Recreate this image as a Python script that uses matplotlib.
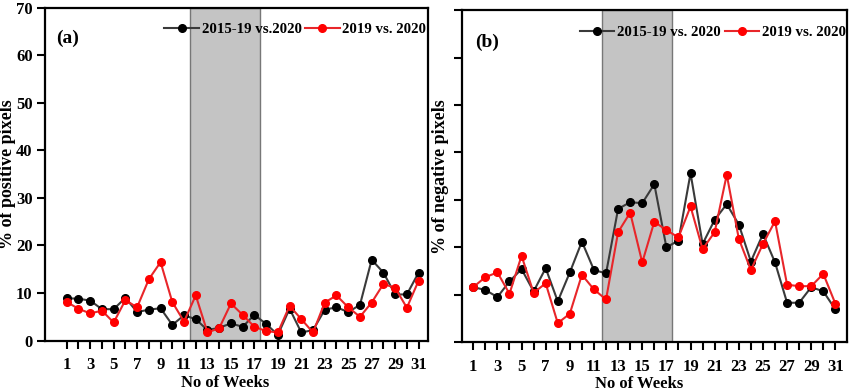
import numpy as np
import matplotlib.pyplot as plt

plt.rcParams['font.family'] = ['Liberation Serif', 'DejaVu Serif']
plt.rcParams['font.weight'] = 'bold'

weeks = np.arange(1, 32)

pos_1519 = [8.9, 8.8, 8.4, 6.6, 6.6, 9.0, 6.0, 6.5, 6.8, 3.3, 5.3, 4.5, 2.2, 2.7, 3.6, 2.9,
            5.4, 3.5, 1.2, 6.7, 1.7, 2.2, 6.5, 7.0, 6.0, 7.5, 17.0, 14.3, 9.7, 9.7, 14.3]
pos_19 = [8.1, 6.7, 5.7, 6.3, 3.8, 8.5, 7.0, 12.9, 16.5, 8.1, 4.0, 9.5, 1.7, 2.6, 7.8, 5.4,
          2.9, 2.0, 1.7, 7.3, 4.5, 1.7, 8.0, 9.5, 7.0, 5.0, 8.0, 11.9, 11.1, 6.9, 12.6]

neg_1519 = [11.6, 11.0, 9.5, 12.8, 15.4, 10.7, 15.6, 8.6, 14.7, 21.2, 15.2, 14.5, 28.1, 29.5,
            29.3, 33.3, 20.0, 21.4, 35.6, 20.7, 25.8, 29.1, 24.8, 17.0, 22.8, 16.8, 8.3, 8.3,
            11.6, 10.7, 6.9]
neg_19 = [11.6, 13.7, 14.7, 10.2, 18.2, 10.4, 12.4, 4.0, 6.0, 14.2, 11.1, 9.0, 23.2, 27.3,
          16.8, 25.4, 23.6, 22.1, 28.6, 19.6, 23.2, 35.3, 21.8, 15.2, 20.7, 25.5, 12.1, 11.8,
          11.8, 14.4, 8.1]

fig = plt.figure(figsize=(8.5, 3.91), dpi=100)
ax1 = fig.add_axes([0.053, 0.129, 0.4505, 0.851])
ax2 = fig.add_axes([0.544, 0.125, 0.453, 0.849])


def panel(ax, s1, s2, tag, ylab, xlim, shade, labels1, ylx, xlx, tagpos):
    ax.axvspan(shade[0], shade[1], facecolor='#c4c4c4', edgecolor='#777777', lw=1.0, zorder=0)
    ax.plot(weeks, s1, color='#3a3a3a', lw=1.5, marker='o', ms=5.5,
            mfc='black', mec='black', label=labels1)
    ax.plot(weeks, s2, color='#e8262a', lw=1.5, marker='o', ms=5.5,
            mfc='red', mec='red', label='2019 vs. 2020')
    ax.set_xlim(*xlim)
    ax.set_ylim(0, 70)
    ax.set_xticks(weeks)
    ax.set_xticklabels([str(w) if w % 2 else '' for w in weeks])
    ax.set_yticks(np.arange(0, 71, 10))
    ax.tick_params(direction='out', length=6, width=1.5, labelsize=12)
    ax.tick_params(axis='x', pad=6)
    ax.tick_params(axis='y', pad=3)
    for sp in ax.spines.values():
        sp.set_linewidth(1.6)
    ax.set_xlabel('No of Weeks', fontsize=12, fontweight='bold')
    ax.xaxis.set_label_coords(xlx, -0.127)
    ax.xaxis.label.set_va('center')
    ax.set_ylabel(ylab, fontsize=13, fontweight='bold')
    ax.yaxis.set_label_coords(ylx, 0.5)
    ax.yaxis.label.set_va('center')
    ax.text(tagpos[0], tagpos[1], tag, transform=ax.transAxes, fontsize=14,
            fontweight='bold', va='center')
    ax.legend(loc='center right', bbox_to_anchor=(1.0, 0.934), ncol=2, frameon=False,
              fontsize=10.7, handlelength=2.3, handletextpad=0.2, columnspacing=0.25,
              borderaxespad=0, borderpad=0.1)


panel(ax1, pos_1519, pos_19, '(a)', '% of positive pixels', (-0.85, 31.8), (11.5, 17.5),
      '2015-19 vs.2020', -0.097, 0.47, (0.03, 0.909))
panel(ax2, neg_1519, neg_19, '(b)', '% of negative pixels', (0.1, 32.0), (11.7, 17.5),
      '2015-19 vs. 2020', -0.057, 0.458, (0.032, 0.904))
ax2.set_yticklabels([])

fig.savefig('out.png', dpi=100)
